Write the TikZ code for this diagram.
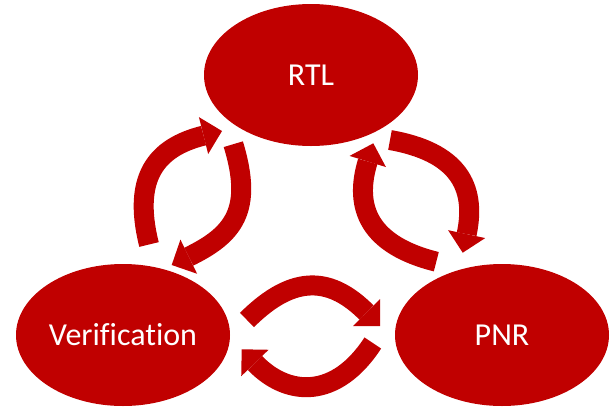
\documentclass[tikz,border=0pt]{standalone}
\usepackage{fontspec}
\setmainfont{Carlito}[Ligatures=CommonOff]
\usetikzlibrary{arrows.meta,shapes.geometric}
\definecolor{flowred}{HTML}{C00000}

\begin{document}
\begin{tikzpicture}[x=1pt,y=1pt,
  stage/.style={ellipse,fill=flowred,text=white,inner sep=0pt,
    minimum width=214pt,minimum height=142pt,font=\fontsize{32}{38}\selectfont},
  loop/.style={draw=flowred,line width=20pt,looseness=1.3,
    -{Triangle[width=38pt,length=19pt,line width=0pt]}}]
  \useasboundingbox (0,0) rectangle (611,-408);
  % the three stages
  \node[stage] (rtl)   at (311,-75)  {RTL};
  \node[stage] (verif) at (123,-335) {Verification};
  \node[stage] (pnr)   at (502,-335) {PNR};
  % ends of the loop arrows
  \coordinate (v2r-s) at (149,-244.5);   \coordinate (v2r-e) at (222,-131);
  \coordinate (r2v-s) at (233.3,-144.2); \coordinate (r2v-e) at (171.7,-265);
  \coordinate (r2p-s) at (390,-140);     \coordinate (r2p-e) at (462.7,-252.7);
  \coordinate (p2r-s) at (436.3,-261.7); \coordinate (p2r-e) at (373.3,-143.3);
  \coordinate (v2p-s) at (247,-320);     \coordinate (v2p-e) at (380,-326);
  \coordinate (p2v-s) at (372.8,-343);   \coordinate (p2v-e) at (241.7,-349.3);
  % verification <-> rtl
  \draw[loop] (v2r-s) to[out=104,in=194] (v2r-e);
  \draw[loop] (r2v-s) to[out=-73,in=26] (r2v-e);
  % rtl <-> pnr
  \draw[loop] (r2p-s) to[out=-10,in=78] (r2p-e);
  \draw[loop] (p2r-s) to[out=166,in=-107] (p2r-e);
  % verification <-> pnr
  \draw[loop] (v2p-s) to[out=45,in=135] (v2p-e);
  \draw[loop] (p2v-s) to[out=-123,in=-46] (p2v-e);
\end{tikzpicture}
\end{document}
